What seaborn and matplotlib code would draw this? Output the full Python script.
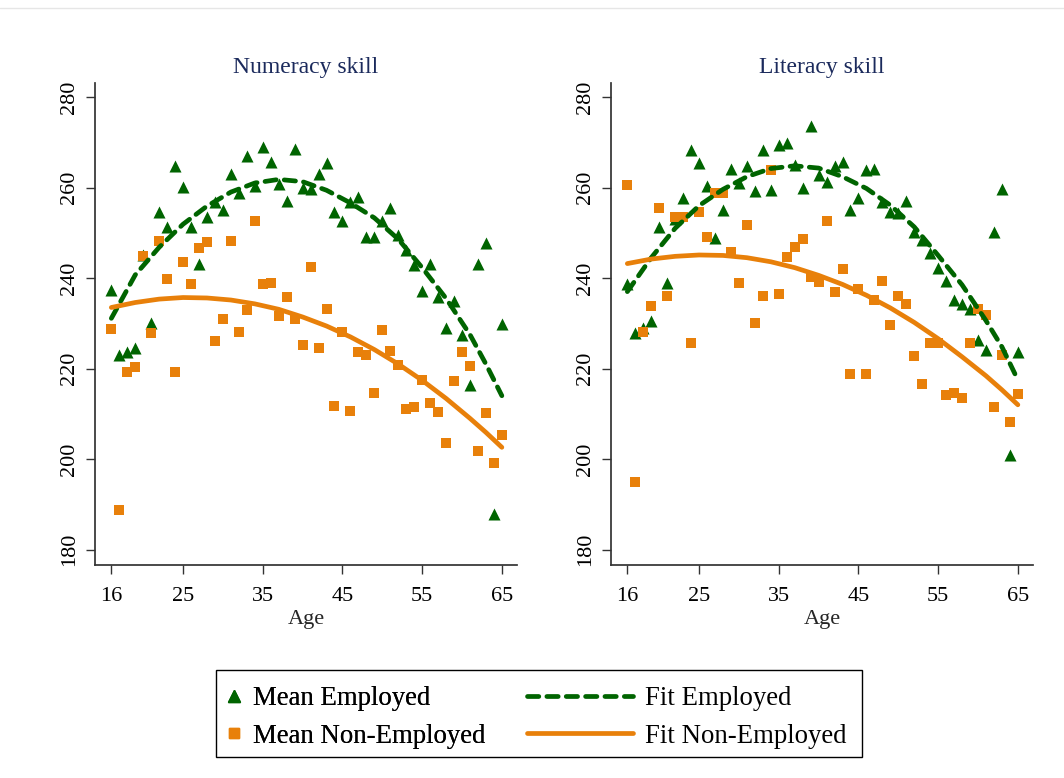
import matplotlib.pyplot as plt
import seaborn as sns
import pandas as pd
from matplotlib.lines import Line2D
from matplotlib.patches import Rectangle

ages = list(range(16, 66))

num_employed = [
    237.3, 223.0, 223.7, 224.5, 245.0, 230.0, 254.5, 251.3, 264.8, 260.1,
    251.3, 243.2, 253.5, 256.8, 255.1, 262.9, 258.7, 267.0, 260.4, 269.0,
    265.7, 260.7, 257.0, 268.6, 259.8, 259.6, 262.9, 265.4, 254.5, 252.6,
    256.8, 257.9, 249.0, 249.1, 252.5, 255.5, 249.5, 246.2, 242.8, 237.2,
    243.0, 235.8, 228.9, 235.0, 227.4, 216.4, 243.0, 247.8, 187.9, 229.8,
]
num_nonemployed = [
    228.7, 188.8, 219.3, 220.4, 244.9, 227.8, 248.2, 239.8, 219.3, 243.5,
    238.7, 246.7, 247.9, 226.1, 230.9, 248.2, 228.0, 232.9, 252.6, 238.7,
    239.0, 231.7, 235.8, 230.9, 225.2, 242.5, 224.5, 233.1, 211.7, 228.1,
    210.6, 223.7, 223.0, 214.5, 228.5, 223.9, 220.8, 211.1, 211.6, 217.5,
    212.5, 210.5, 203.5, 217.3, 223.6, 220.6, 201.8, 210.2, 199.1, 205.3,
]
lit_employed = [
    238.6, 227.8, 228.9, 230.6, 251.3, 238.8, 253.0, 257.6, 268.4, 265.4,
    260.4, 248.9, 255.1, 264.0, 261.0, 264.7, 259.2, 268.4, 259.4, 269.3,
    269.9, 264.9, 259.8, 273.6, 262.7, 261.2, 264.7, 265.7, 255.1, 257.7,
    263.8, 264.2, 256.8, 254.5, 254.3, 257.0, 250.2, 248.5, 245.6, 242.3,
    239.3, 235.1, 234.2, 233.1, 226.4, 224.2, 250.1, 259.6, 200.9, 223.7,
]
lit_nonemployed = [
    260.5, 195.0, 228.1, 233.9, 255.5, 236.1, 253.5, 253.5, 225.6, 254.5,
    249.1, 258.9, 258.9, 245.8, 238.8, 251.8, 230.1, 236.0, 263.8, 236.4,
    244.7, 246.8, 248.6, 240.3, 239.2, 252.6, 237.0, 242.1, 218.9, 237.6,
    218.7, 235.1, 239.4, 229.6, 236.0, 234.2, 222.8, 216.7, 225.6, 225.6,
    214.2, 214.5, 213.4, 225.6, 233.1, 231.8, 211.6, 223.1, 208.3, 214.4,
]

# fitted curves at these ages
fit_ages = [16, 19, 22, 25, 28, 31, 34, 37, 40, 43, 46, 49, 52, 55, 58, 61, 63, 65]
num_employed_fit = [
    231.1, 240.7, 246.8, 251.9, 255.9, 259.0, 261.0, 261.8, 261.3, 259.4,
    256.6, 253.3, 248.6, 242.3, 235.5, 227.5, 221.0, 214.0,
]
num_nonemployed_fit = [
    233.5, 234.6, 235.35, 235.7, 235.6, 235.15, 234.3, 233.1, 231.4, 229.4,
    227.0, 224.2, 221.0, 217.4, 213.4, 209.0, 205.9, 202.6,
]
lit_employed_fit = [
    237.0, 244.5, 251.0, 256.0, 259.6, 262.4, 264.2, 264.8, 264.3, 262.4,
    259.8, 256.1, 251.3, 245.0, 238.5, 230.6, 224.8, 217.5,
]
lit_nonemployed_fit = [
    243.2, 244.2, 244.8, 245.1, 245.0, 244.5, 243.6, 242.3, 240.6, 238.6,
    236.2, 233.4, 230.2, 226.6, 222.6, 218.4, 215.3, 212.0,
]

panels = [
    ("Numeracy skill", num_employed, num_nonemployed, num_employed_fit, num_nonemployed_fit),
    ("Literacy skill", lit_employed, lit_nonemployed, lit_employed_fit, lit_nonemployed_fit),
]

GREEN = "#006400"
ORANGE = "#E8800A"
TITLE_COLOR = "#1B2A5C"

sns.set_theme(style="ticks")
plt.rcParams["font.family"] = ["Liberation Serif", "DejaVu Serif"]
plt.rcParams["text.color"] = "black"
plt.rcParams["axes.edgecolor"] = "#333333"
plt.rcParams["xtick.color"] = "#333333"
plt.rcParams["ytick.color"] = "#333333"
plt.rcParams["xtick.labelcolor"] = "black"
plt.rcParams["ytick.labelcolor"] = "black"

fig = plt.figure(figsize=(10.64, 7.78), dpi=100)
axes_rects = [
    [95 / 1064, 213 / 778, 422 / 1064, 482 / 778],
    [611 / 1064, 213 / 778, 422 / 1064, 482 / 778],
]
dash_style = (2.4, 1.7)

for rect, (title, employed, nonemployed, emp_fit, non_fit) in zip(axes_rects, panels):
    ax = fig.add_axes(rect)
    points = pd.DataFrame({"age": ages, "emp": employed, "non": nonemployed})
    fits = pd.DataFrame({"age": fit_ages, "emp": emp_fit, "non": non_fit})

    sns.scatterplot(data=points, x="age", y="emp", marker="^", color=GREEN,
                    s=75, linewidth=0, ax=ax, zorder=3)
    sns.scatterplot(data=points, x="age", y="non", marker="s", color=ORANGE,
                    s=58, linewidth=0, ax=ax, zorder=3)
    sns.lineplot(data=fits, x="age", y="emp", color=GREEN, lw=3.4, estimator=None,
                 linestyle=(0, dash_style), dash_capstyle="round", ax=ax, zorder=4)
    sns.lineplot(data=fits, x="age", y="non", color=ORANGE, lw=3.4, estimator=None,
                 solid_capstyle="round", ax=ax, zorder=4)

    ax.set_xlim(13.95, 66.9)
    ax.set_ylim(176.6, 283.1)
    ax.set_xticks([16, 25, 35, 45, 55, 65])
    ax.set_yticks([180, 200, 220, 240, 260, 280])
    ax.tick_params(axis="both", labelsize=16, length=6.5, width=1)
    ax.tick_params(axis="x", pad=9)
    ax.tick_params(axis="y", pad=5)
    for lab in ax.get_yticklabels():
        lab.set_rotation(90)
        lab.set_va("center")
    ax.set_xlabel("Age", fontsize=16, labelpad=3)
    ax.set_ylabel("")
    ax.set_title(title, fontsize=17, color=TITLE_COLOR, pad=7)
    sns.despine(ax=ax)

marker_handles = [
    Line2D([], [], marker="^", color=GREEN, linestyle="none", markersize=8),
    Line2D([], [], marker="s", color=ORANGE, linestyle="none", markersize=7),
]
line_handles = [
    Line2D([], [], color=GREEN, lw=3.4, linestyle=(0, dash_style), dash_capstyle="round"),
    Line2D([], [], color=ORANGE, lw=3.4, solid_capstyle="round"),
]
legend_font = 19.3
leg1 = fig.legend(marker_handles, ["Mean Employed", "Mean Non-Employed"],
                  loc="upper left", bbox_to_anchor=(225 / 1064, 1 - 686 / 778),
                  frameon=False, fontsize=legend_font, handlelength=0.7,
                  handletextpad=0.36, labelspacing=0.48, borderpad=0, borderaxespad=0)
leg2 = fig.legend(line_handles, ["Fit Employed", "Fit Non-Employed"],
                  loc="upper left", bbox_to_anchor=(527 / 1064, 1 - 686 / 778),
                  frameon=False, fontsize=legend_font, handlelength=3.96,
                  handletextpad=0.45, labelspacing=0.48, borderpad=0, borderaxespad=0)
fig.add_artist(leg1)
fig.patches.append(Rectangle((216 / 1064, 21 / 778), 646 / 1064, 87 / 778,
                             transform=fig.transFigure, fill=False,
                             edgecolor="black", lw=1))
fig.add_artist(Line2D([0, 1], [1 - 8 / 778, 1 - 8 / 778], transform=fig.transFigure,
                      color="#e6e6e6", lw=1))

fig.savefig("out.png", dpi=100, facecolor="white")
